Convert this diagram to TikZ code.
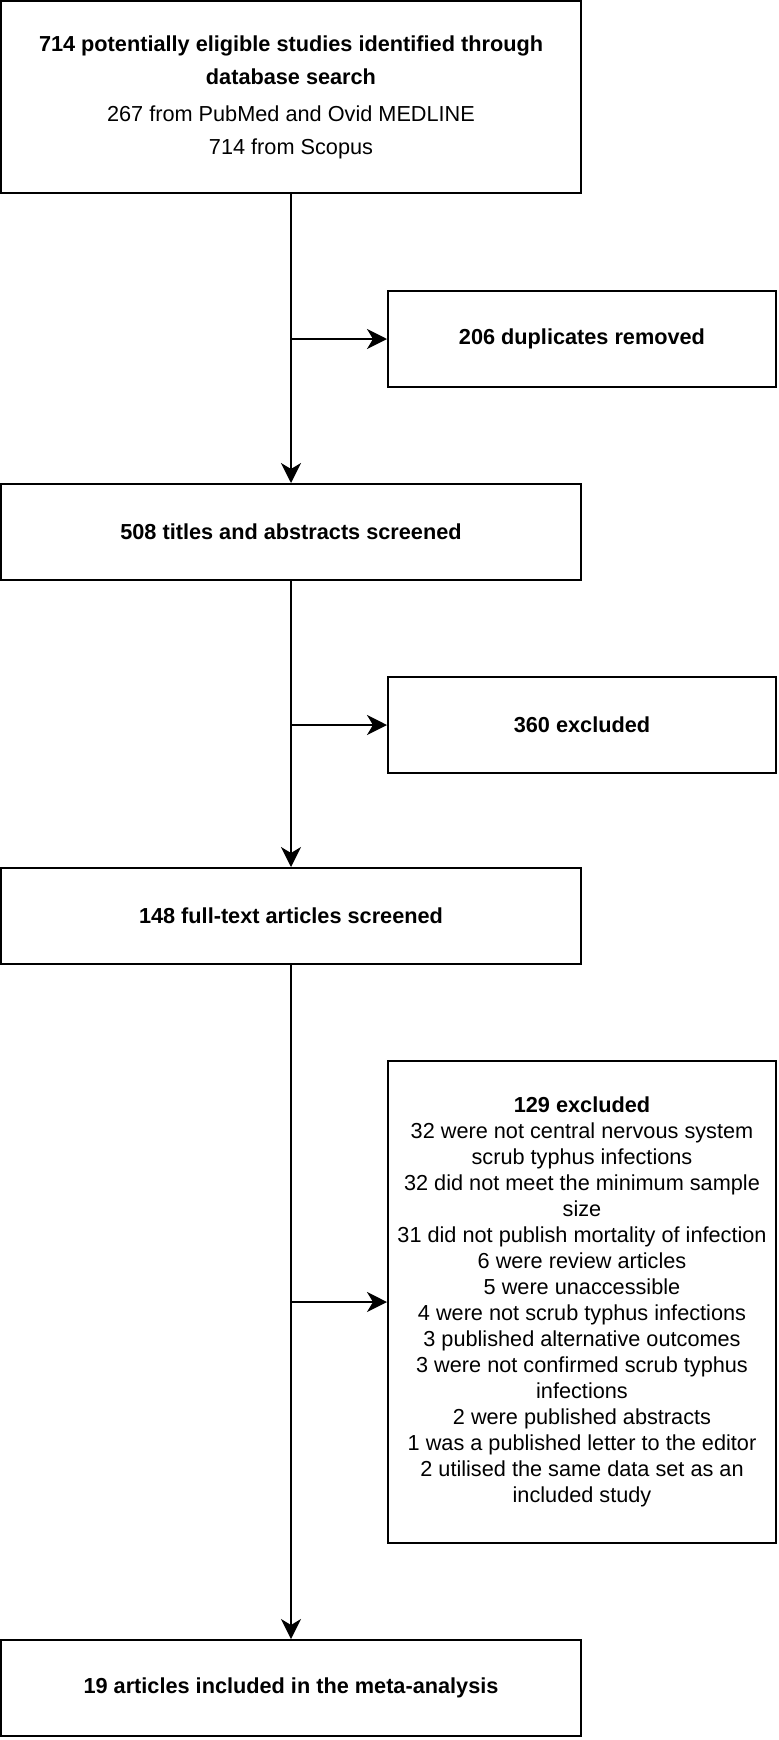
\documentclass[tikz,border=0pt]{standalone}
\usepackage{fontspec}
\setmainfont{Liberation Sans}
\usetikzlibrary{arrows.meta}
\begin{document}
\begin{tikzpicture}[line width=1pt]
\tikzstyle{every node}=[draw,rectangle,align=center,inner sep=0pt,font=\fontsize{10.85}{16.5}\selectfont]
\tikzstyle{mainbox}=[minimum width=290pt,minimum height=48pt]
\tikzstyle{sidebox}=[minimum width=194pt,minimum height=48pt]
\tikzstyle{arr}=[-{Stealth[length=10pt,width=10pt,inset=3pt]}]
\useasboundingbox (0,0) rectangle (389pt,-870pt);
\node[mainbox,minimum height=96pt](ident) at (145.5pt,-48.5pt) {\textbf{714 potentially eligible studies identified through}\\\textbf{database search}\\[2pt]267 from PubMed and Ovid MEDLINE\\714 from Scopus};
\node[sidebox](dup) at (291pt,-169.5pt) {\textbf{206 duplicates removed}};
\node[mainbox](titles) at (145.5pt,-266pt) {\textbf{508 titles and abstracts screened}};
\node[sidebox](excla) at (291pt,-362.5pt) {\textbf{360 excluded}};
\node[mainbox](fulltext) at (145.5pt,-458pt) {\textbf{148 full-text articles screened}};
\node[sidebox,minimum height=241pt,font=\fontsize{10.85}{13}\selectfont](exclb) at (291pt,-651pt) {\textbf{129 excluded}\\32 were not central nervous system\\scrub typhus infections\\32 did not meet the minimum sample\\size\\31 did not publish mortality of infection\\6 were review articles\\5 were unaccessible\\4 were not scrub typhus infections\\3 published alternative outcomes\\3 were not confirmed scrub typhus\\infections\\2 were published abstracts\\1 was a published letter to the editor\\2 utilised the same data set as an\\included study};
\node[mainbox](incl) at (145.5pt,-844pt) {\textbf{19 articles included in the meta-analysis}};
\draw[arr] (ident.south) -- (titles.north);
\draw[arr] (titles.south) -- (fulltext.north);
\draw[arr] (fulltext.south) -- (incl.north);
\draw[arr] (ident.south |- dup.west) -- (dup.west);
\draw[arr] (titles.south |- excla.west) -- (excla.west);
\draw[arr] (fulltext.south |- exclb.west) -- (exclb.west);
\end{tikzpicture}
\end{document}
